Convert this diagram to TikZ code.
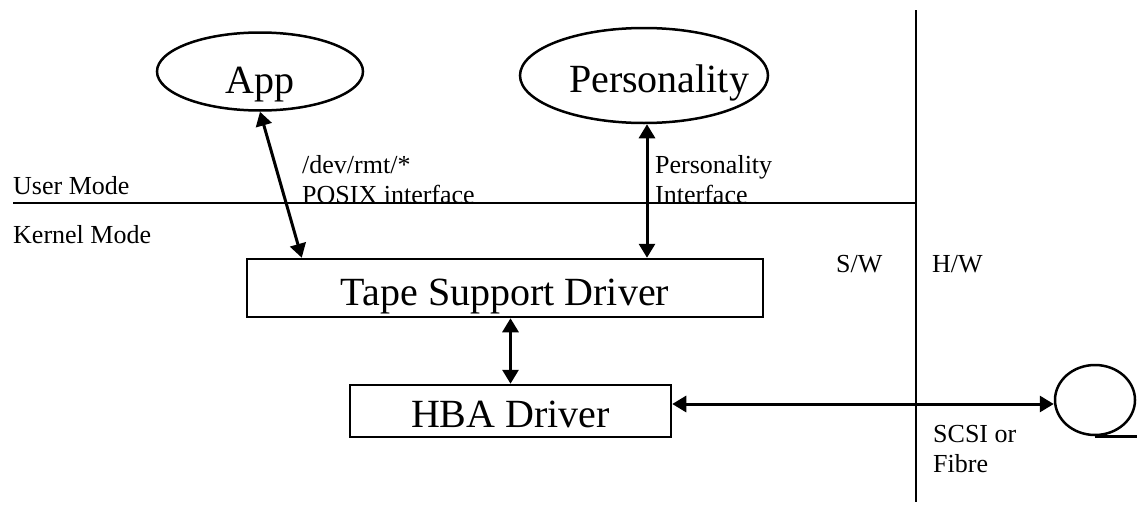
\documentclass[tikz,border=0pt]{standalone}
\usepackage{fontspec}
\setmainfont{Liberation Serif}
\usetikzlibrary{arrows.meta,shapes.geometric}
\newcommand\bigfnt{\fontsize{40}{48}\selectfont}
\newcommand\smfnt{\fontsize{26}{30}\selectfont}
\tikzset{
  boxnode/.style={draw, line width=2.5pt, rectangle, inner sep=0pt, text depth=0pt, font=\bigfnt},
  ellnode/.style={draw, line width=2.5pt, ellipse, inner sep=0pt},
  bigtxt/.style={anchor=base, inner sep=0pt, font=\bigfnt},
  smtxt/.style={anchor=base west, inner sep=0pt, font=\smfnt},
  dblarrow/.style={line width=3pt, {Triangle[length=14pt,width=16pt]}-{Triangle[length=14pt,width=16pt]}},
  thinline/.style={line width=1.5pt},
  divline/.style={line width=2.5pt}
}
\begin{document}
\begin{tikzpicture}[x=1pt,y=-1pt]
\useasboundingbox (0,0) rectangle (1137,506);
% divider lines
\coordinate (vtop) at (916,10);
\coordinate (vbot) at (916,502);
\coordinate (umL) at (13,203);
\draw[divline] (vtop) -- (vbot);
\draw[thinline] (umL) -- (umL -| vtop);
% ellipses
\node[ellnode, minimum width=206pt, minimum height=78pt] (app) at (260,71.5) {};
\node[bigtxt] (apptxt) at (260,93) {App};
\node[ellnode, minimum width=248pt, minimum height=95pt] (pers) at (644,75.5) {};
\node[bigtxt] (perstxt) at (659,92) {Personality};
% boxes
\node[boxnode, minimum width=516pt, minimum height=58pt, text height=34pt] (tape) at (505,288) {Tape Support Driver};
\node[boxnode, minimum width=321pt, minimum height=52pt, text height=32pt] (hba) at (510.5,411) {HBA Driver};
% tape reel
\node[ellnode, minimum width=80pt, minimum height=70pt] (reel) at (1095,400) {};
\coordinate (rightE) at (1137,0);
\draw[line width=2.5pt] (reel.south) -- (reel.south -| rightE);
% connectors
\draw[dblarrow] (app.south) -- ([xshift=56pt]tape.north west);
\draw[dblarrow] ([xshift=3pt]pers.south) -- ([xshift=3pt]pers.south |- tape.north);
\draw[dblarrow] (hba.north) -- (hba.north |- tape.south);
\coordinate (reelW) at ([yshift=-4pt]reel.west);
\draw[dblarrow] (hba.east |- reelW) -- (reelW);
% labels
\node[smtxt] (um) at (13,194) {User Mode};
\node[smtxt] (km) at (13,243) {Kernel Mode};
\node[smtxt] (dev1) at (302,173) {/dev/rmt/*};
\node[smtxt] (dev2) at (302,203) {POSIX interface};
\node[smtxt] (pi1) at (655,173) {Personality};
\node[smtxt] (pi2) at (655,203) {Interface};
\node[smtxt] (sw) at (836,272) {S/W};
\node[smtxt] (hw) at (932,272) {H/W};
\node[smtxt] (scsi1) at (933,442) {SCSI or};
\node[smtxt] (scsi2) at (933,472) {Fibre};
\end{tikzpicture}
\end{document}
